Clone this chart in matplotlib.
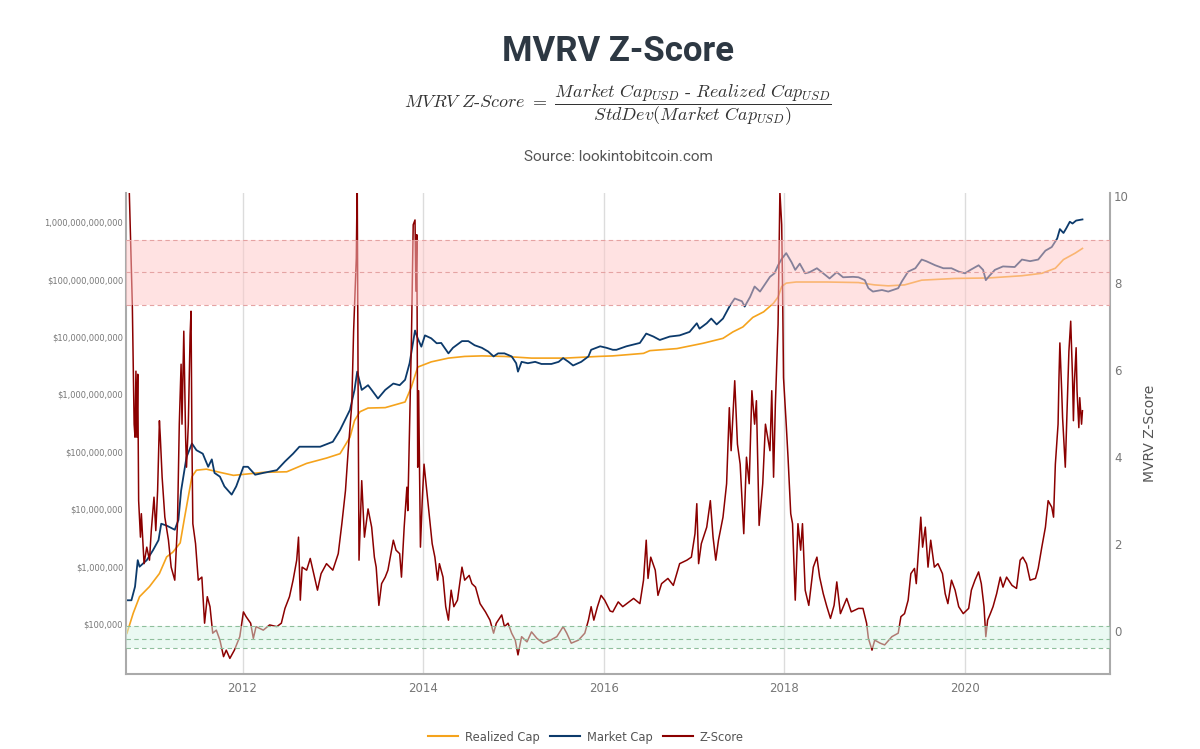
import matplotlib
matplotlib.use("Agg")
import matplotlib.pyplot as plt
from matplotlib.lines import Line2D

plt.rcParams['font.family'] = ['DejaVu Sans']
plt.rcParams['mathtext.fontset'] = 'cm'

# ----------- Data (decimal years) -----------
mcap_years = [2010.715, 2010.77, 2010.81, 2010.84, 2010.86, 2010.94, 2011.01, 2011.07, 2011.10, 2011.16,
              2011.25, 2011.29, 2011.32, 2011.38, 2011.44, 2011.49, 2011.56, 2011.62, 2011.66, 2011.69,
              2011.75, 2011.80, 2011.88, 2011.93, 2012.01, 2012.06, 2012.14, 2012.23, 2012.38, 2012.47,
              2012.56, 2012.63, 2012.75, 2012.86, 2013.00, 2013.08, 2013.19, 2013.24, 2013.27, 2013.32,
              2013.39, 2013.43, 2013.50, 2013.58, 2013.67, 2013.74, 2013.80, 2013.85, 2013.91, 2013.94,
              2013.98, 2014.02, 2014.09, 2014.15, 2014.20, 2014.28, 2014.33, 2014.43, 2014.50, 2014.57,
              2014.65, 2014.72, 2014.78, 2014.83, 2014.90, 2014.98, 2015.03, 2015.05, 2015.09, 2015.16,
              2015.24, 2015.31, 2015.42, 2015.50, 2015.55, 2015.61, 2015.66, 2015.75, 2015.83, 2015.86,
              2015.96, 2016.03, 2016.10, 2016.14, 2016.25, 2016.40, 2016.47, 2016.55, 2016.62, 2016.73,
              2016.84, 2016.95, 2017.03, 2017.06, 2017.14, 2017.19, 2017.25, 2017.32, 2017.40, 2017.45,
              2017.53, 2017.56, 2017.62, 2017.67, 2017.73, 2017.78, 2017.84, 2017.89, 2017.93, 2017.97,
              2018.02, 2018.08, 2018.12, 2018.17, 2018.23, 2018.28, 2018.36, 2018.43, 2018.50, 2018.58,
              2018.65, 2018.76, 2018.82, 2018.89, 2018.93, 2018.98, 2019.08, 2019.15, 2019.26, 2019.30,
              2019.37, 2019.45, 2019.52, 2019.57, 2019.67, 2019.76, 2019.85, 2019.93, 2020.00, 2020.06,
              2020.15, 2020.20, 2020.23, 2020.26, 2020.33, 2020.42, 2020.55, 2020.63, 2020.72, 2020.81,
              2020.89, 2020.96, 2021.02, 2021.05, 2021.09, 2021.12, 2021.16, 2021.19, 2021.23, 2021.30]
market_cap = [2.6e5, 2.6e5, 4.5e5, 1.3e6, 1.0e6, 1.3e6, 1.95e6, 2.9e6, 5.6e6, 5.2e6,
              4.4e6, 6.5e6, 2.1e7, 8.1e7, 1.4e8, 1.07e8, 9.3e7, 5.5e7, 7.4e7, 4.3e7,
              3.7e7, 2.5e7, 1.8e7, 2.5e7, 5.5e7, 5.5e7, 4.0e7, 4.3e7, 4.8e7, 6.8e7,
              9.3e7, 1.23e8, 1.23e8, 1.23e8, 1.5e8, 2.4e8, 5.4e8, 1.2e9, 2.5e9, 1.2e9,
              1.45e9, 1.2e9, 8.5e8, 1.2e9, 1.55e9, 1.45e9, 1.8e9, 3.5e9, 1.3e10, 9.5e9,
              6.8e9, 1.07e10, 9.5e9, 7.8e9, 7.9e9, 5.2e9, 6.5e9, 8.5e9, 8.5e9, 7.2e9,
              6.5e9, 5.6e9, 4.6e9, 5.2e9, 5.2e9, 4.6e9, 3.5e9, 2.5e9, 3.7e9, 3.5e9,
              3.7e9, 3.4e9, 3.4e9, 3.7e9, 4.3e9, 3.7e9, 3.2e9, 3.7e9, 4.6e9, 6.0e9,
              6.9e9, 6.5e9, 6.0e9, 6.0e9, 6.9e9, 7.9e9, 1.15e10, 1.02e10, 8.9e9, 1.02e10,
              1.07e10, 1.23e10, 1.74e10, 1.4e10, 1.74e10, 2.1e10, 1.66e10, 2.1e10, 3.6e10, 4.7e10,
              4.2e10, 3.4e10, 5.0e10, 7.6e10, 6.2e10, 8.1e10, 1.12e11, 1.29e11, 1.78e11, 2.3e11,
              2.9e11, 2.0e11, 1.48e11, 1.9e11, 1.29e11, 1.35e11, 1.58e11, 1.29e11, 1.05e11, 1.35e11,
              1.1e11, 1.12e11, 1.1e11, 9.8e10, 7.1e10, 6.2e10, 6.6e10, 6.2e10, 7.1e10, 9.3e10,
              1.38e11, 1.58e11, 2.24e11, 2.1e11, 1.78e11, 1.58e11, 1.58e11, 1.38e11, 1.29e11, 1.48e11,
              1.78e11, 1.48e11, 9.8e10, 1.12e11, 1.48e11, 1.7e11, 1.66e11, 2.24e11, 2.1e11, 2.24e11,
              3.2e11, 3.7e11, 5.2e11, 7.6e11, 6.5e11, 7.8e11, 1.02e12, 9.5e11, 1.07e12, 1.12e12]

rcap_years = [2010.72, 2010.79, 2010.86, 2010.97, 2011.08, 2011.16, 2011.23, 2011.31, 2011.36, 2011.40,
              2011.44, 2011.49, 2011.60, 2011.75, 2011.90, 2012.04, 2012.23, 2012.49, 2012.71, 2012.93,
              2013.08, 2013.19, 2013.24, 2013.30, 2013.39, 2013.58, 2013.80, 2013.87, 2013.94, 2014.09,
              2014.28, 2014.46, 2014.65, 2014.90, 2015.20, 2015.57, 2015.94, 2016.10, 2016.44, 2016.51,
              2016.81, 2017.10, 2017.32, 2017.43, 2017.54, 2017.65, 2017.77, 2017.88, 2017.93, 2017.97,
              2018.02, 2018.13, 2018.47, 2018.82, 2019.00, 2019.15, 2019.33, 2019.52, 2019.89, 2020.26,
              2020.63, 2020.85, 2021.00, 2021.09, 2021.22, 2021.30]
realized_cap = [6.9e4, 1.55e5, 3.0e5, 4.5e5, 7.6e5, 1.48e6, 1.8e6, 2.6e6, 7.4e6, 1.66e7,
                3.7e7, 4.8e7, 5.0e7, 4.4e7, 3.9e7, 4.1e7, 4.4e7, 4.5e7, 6.3e7, 7.8e7,
                9.3e7, 1.8e8, 3.5e8, 5.0e8, 5.8e8, 5.9e8, 7.4e8, 1.35e9, 3.0e9, 3.7e9,
                4.3e9, 4.6e9, 4.7e9, 4.6e9, 4.3e9, 4.3e9, 4.6e9, 4.7e9, 5.2e9, 5.8e9,
                6.3e9, 7.8e9, 9.5e9, 1.23e10, 1.5e10, 2.2e10, 2.75e10, 3.9e10, 5.0e10, 7.6e10,
                8.7e10, 9.1e10, 9.1e10, 8.9e10, 8.1e10, 7.8e10, 8.1e10, 9.8e10, 1.05e11, 1.07e11,
                1.17e11, 1.29e11, 1.58e11, 2.24e11, 2.9e11, 3.5e11]

z_years = [2010.74, 2010.78, 2010.80, 2010.81, 2010.82, 2010.83, 2010.84, 2010.85, 2010.87, 2010.88,
           2010.91, 2010.94, 2010.97, 2010.99, 2011.02, 2011.04, 2011.06, 2011.08, 2011.09, 2011.11,
           2011.14, 2011.18, 2011.21, 2011.25, 2011.28, 2011.30, 2011.32, 2011.33, 2011.35, 2011.37,
           2011.38, 2011.40, 2011.42, 2011.43, 2011.44, 2011.45, 2011.48, 2011.51, 2011.55, 2011.58,
           2011.61, 2011.64, 2011.67, 2011.71, 2011.75, 2011.79, 2011.82, 2011.86, 2011.91, 2011.97,
           2012.01, 2012.04, 2012.09, 2012.12, 2012.15, 2012.23, 2012.30, 2012.38, 2012.43, 2012.47,
           2012.52, 2012.56, 2012.60, 2012.62, 2012.64, 2012.66, 2012.71, 2012.75, 2012.78, 2012.83,
           2012.87, 2012.93, 2013.00, 2013.06, 2013.10, 2013.14, 2013.17, 2013.21, 2013.23, 2013.26,
           2013.27, 2013.28, 2013.29, 2013.32, 2013.35, 2013.39, 2013.43, 2013.46, 2013.48, 2013.51,
           2013.54, 2013.58, 2013.61, 2013.67, 2013.70, 2013.74, 2013.76, 2013.79, 2013.82, 2013.83,
           2013.85, 2013.87, 2013.89, 2013.91, 2013.92, 2013.93, 2013.94, 2013.95, 2013.97, 2013.99,
           2014.01, 2014.04, 2014.07, 2014.10, 2014.13, 2014.16, 2014.18, 2014.22, 2014.25, 2014.28,
           2014.31, 2014.34, 2014.38, 2014.43, 2014.46, 2014.51, 2014.54, 2014.58, 2014.63, 2014.69,
           2014.74, 2014.78, 2014.81, 2014.87, 2014.90, 2014.94, 2014.98, 2015.02, 2015.05, 2015.09,
           2015.15, 2015.20, 2015.26, 2015.33, 2015.41, 2015.48, 2015.55, 2015.59, 2015.64, 2015.72,
           2015.79, 2015.83, 2015.86, 2015.89, 2015.93, 2015.97, 2016.01, 2016.07, 2016.10, 2016.16,
           2016.21, 2016.33, 2016.40, 2016.44, 2016.47, 2016.49, 2016.52, 2016.57, 2016.60, 2016.64,
           2016.71, 2016.77, 2016.84, 2016.92, 2016.97, 2017.01, 2017.03, 2017.05, 2017.08, 2017.14,
           2017.18, 2017.21, 2017.24, 2017.27, 2017.32, 2017.36, 2017.39, 2017.41, 2017.45, 2017.48,
           2017.51, 2017.55, 2017.58, 2017.61, 2017.64, 2017.67, 2017.69, 2017.72, 2017.76, 2017.79,
           2017.84, 2017.86, 2017.88, 2017.90, 2017.93, 2017.95, 2017.97, 2017.98, 2017.99, 2018.02,
           2018.04, 2018.07, 2018.09, 2018.12, 2018.15, 2018.18, 2018.20, 2018.23, 2018.27, 2018.32,
           2018.36, 2018.39, 2018.43, 2018.47, 2018.51, 2018.55, 2018.58, 2018.62, 2018.69, 2018.74,
           2018.82, 2018.87, 2018.91, 2018.93, 2018.97, 2019.00, 2019.06, 2019.11, 2019.19, 2019.26,
           2019.29, 2019.33, 2019.37, 2019.40, 2019.44, 2019.46, 2019.51, 2019.53, 2019.56, 2019.59,
           2019.62, 2019.66, 2019.70, 2019.75, 2019.78, 2019.81, 2019.85, 2019.89, 2019.93, 2019.98,
           2020.04, 2020.07, 2020.11, 2020.15, 2020.18, 2020.21, 2020.23, 2020.25, 2020.28, 2020.31,
           2020.35, 2020.39, 2020.42, 2020.46, 2020.52, 2020.57, 2020.61, 2020.64, 2020.68, 2020.72,
           2020.78, 2020.81, 2020.85, 2020.89, 2020.92, 2020.96, 2020.98, 2021.00, 2021.03, 2021.04,
           2021.05, 2021.07, 2021.08, 2021.10, 2021.11, 2021.13, 2021.15, 2021.17, 2021.19, 2021.20,
           2021.21, 2021.23, 2021.24, 2021.26, 2021.27, 2021.29, 2021.30]
z_score = [10.6, 7.50, 4.75, 4.45, 5.97, 4.45, 5.90, 2.99, 2.15, 2.69,
           1.54, 1.92, 1.62, 2.30, 3.07, 2.30, 3.22, 4.83, 4.45, 3.53,
           2.61, 2.08, 1.46, 1.16, 2.46, 4.75, 6.13, 4.75, 6.89, 4.45,
           3.76, 4.75, 6.82, 7.35, 4.37, 2.46, 2.00, 1.16, 1.23, 0.17,
           0.78, 0.55, -0.06, 0.01, -0.22, -0.60, -0.45, -0.64, -0.45, -0.14,
           0.43, 0.32, 0.17, -0.18, 0.09, 0.01, 0.13, 0.09, 0.17, 0.51,
           0.78, 1.16, 1.62, 2.15, 0.70, 1.46, 1.39, 1.66, 1.39, 0.93,
           1.31, 1.54, 1.39, 1.77, 2.46, 3.22, 4.14, 5.21, 6.89, 8.57,
           10.4, 5.52, 1.62, 3.45, 2.15, 2.80, 2.38, 1.69, 1.46, 0.58,
           1.08, 1.23, 1.39, 2.08, 1.85, 1.77, 1.23, 2.38, 3.30, 2.76,
           4.75, 6.66, 9.34, 9.45, 7.81, 9.11, 3.76, 5.52, 1.92, 2.99,
           3.83, 3.22, 2.61, 2.00, 1.69, 1.16, 1.54, 1.23, 0.55, 0.24,
           0.93, 0.55, 0.70, 1.46, 1.16, 1.27, 1.08, 1.00, 0.62, 0.43,
           0.24, -0.06, 0.17, 0.36, 0.09, 0.17, -0.06, -0.22, -0.56, -0.14,
           -0.26, -0.03, -0.18, -0.29, -0.22, -0.14, 0.09, -0.06, -0.29, -0.22,
           -0.06, 0.24, 0.55, 0.24, 0.55, 0.81, 0.70, 0.45, 0.43, 0.66,
           0.55, 0.74, 0.62, 1.16, 2.08, 1.20, 1.69, 1.39, 0.81, 1.08,
           1.20, 1.04, 1.54, 1.62, 1.69, 2.23, 2.92, 1.54, 2.00, 2.38,
           2.99, 2.15, 1.62, 2.08, 2.61, 3.38, 5.13, 4.14, 5.75, 4.29,
           3.83, 2.23, 3.99, 3.38, 5.52, 4.75, 5.29, 2.42, 3.38, 4.75,
           4.14, 5.52, 3.53, 5.21, 7.05, 10.1, 9.34, 7.81, 5.82, 4.75,
           3.99, 2.69, 2.46, 0.70, 2.46, 1.85, 2.46, 0.93, 0.58, 1.46,
           1.69, 1.23, 0.85, 0.55, 0.28, 0.58, 1.12, 0.39, 0.74, 0.43,
           0.51, 0.51, 0.17, -0.18, -0.45, -0.22, -0.29, -0.33, -0.14, -0.06,
           0.32, 0.39, 0.70, 1.31, 1.43, 1.08, 2.61, 1.92, 2.38, 1.46,
           2.08, 1.46, 1.54, 1.31, 0.85, 0.62, 1.16, 0.93, 0.55, 0.39,
           0.51, 0.93, 1.16, 1.35, 1.08, 0.55, -0.14, 0.24, 0.39, 0.55,
           0.85, 1.23, 1.00, 1.23, 1.04, 0.97, 1.62, 1.69, 1.54, 1.16,
           1.20, 1.43, 1.92, 2.38, 2.99, 2.84, 2.61, 3.83, 4.75, 5.82,
           6.62, 5.52, 4.90, 4.14, 3.76, 5.13, 6.43, 7.12, 5.82, 4.83,
           5.67, 6.51, 5.52, 4.67, 5.36, 4.75, 5.06]

cap_ticks = [1e5, 1e6, 1e7, 1e8, 1e9, 1e10, 1e11, 1e12]
cap_tick_labels = [r"\$100,000", r"\$1,000,000", r"\$10,000,000", r"\$100,000,000", r"\$1,000,000,000",
                   r"\$10,000,000,000", r"\$100,000,000,000", "1,000,000,000,000"]
year_ticks = [2012, 2014, 2016, 2018, 2020]
z_ticks = [0, 2, 4, 6, 8, 10]
red_band = [7.5, 8.25, 9.0]
green_band = [-0.4, -0.2, 0.1]

ORANGE = "#f5a31c"
NAVY = "#0c3a6b"
DARKRED = "#8b0000"
GRID = "#aaaaaa"

# ----------- Figure -----------
fig = plt.figure(figsize=(12, 7.49), dpi=100)
ax = fig.add_axes([0.105, 0.1001, 0.82, 0.6422])
ax2 = ax.twinx()

ax.plot(rcap_years, realized_cap, color=ORANGE, lw=1.2)
ax.plot(mcap_years, market_cap, color=NAVY, lw=1.3)
ax.set_yscale("log")
ax.set_ylim(1.35e4, 3.23e12)
ax.set_xlim(2010.71, 2021.605)
ax.set_yticks(cap_ticks)
ax.set_yticklabels(cap_tick_labels)
ax.minorticks_off()
ax.set_xticks(year_ticks)
ax.set_xticklabels([str(y) for y in year_ticks])
ax.grid(axis="x", color="#dcdcdc", lw=1)
ax.set_axisbelow(True)

ax2.plot(z_years, z_score, color=DARKRED, lw=1.1)
ax2.set_ylim(-1.0, 10.07)
ax2.set_yticks(z_ticks)

# bands drawn on top of the lines, semi transparent
ax2.axhspan(red_band[0], red_band[-1], color=(1.0, 0.78, 0.78), alpha=0.5, lw=0, zorder=5)
ax2.axhspan(green_band[0], green_band[-1], color=(0.84, 0.96, 0.9), alpha=0.5, lw=0, zorder=5)
for lvl in red_band:
    ax2.axhline(lvl, color="#e5a3a3", lw=0.8, ls=(0, (4, 3)), zorder=6)
for lvl in green_band:
    ax2.axhline(lvl, color="#8fbf9c", lw=0.8, ls=(0, (4, 3)), zorder=6)

# ----------- Axes styling -----------
for s in ["top", "right"]:
    ax.spines[s].set_visible(False)
for s in ["top", "left", "bottom"]:
    ax2.spines[s].set_visible(False)
for sp in [ax.spines["left"], ax.spines["bottom"], ax2.spines["right"]]:
    sp.set_color(GRID)
    sp.set_linewidth(1.5)

ax.tick_params(axis="y", length=0, labelsize=6, labelcolor="#777777", pad=2)
ax.tick_params(axis="x", length=0, labelsize=8.5, labelcolor="#777777", pad=6)
ax2.tick_params(axis="y", length=0, labelsize=8.5, labelcolor="#777777", pad=3)
ax2.set_ylabel("MVRV Z-Score", fontsize=10, color="#555555", labelpad=10)

# ----------- Titles -----------
cx = 0.515
fig.text(cx, 0.9306, "MVRV Z-Score", ha="center", va="center", fontsize=25,
         fontweight="bold", family="Roboto", color="#2d3843")
fig.text(cx, 0.86,
         r"$MVRV\ Z\text{-}Score\ =\ \dfrac{Market\ Cap_{USD}\ \text{-}\ Realized\ Cap_{USD}}"
         r"{StdDev(Market\ Cap_{USD})}$",
         ha="center", va="center", fontsize=13, color="#333333")
fig.text(cx, 0.79, "Source: lookintobitcoin.com", ha="center", va="center",
         fontsize=11, family="Roboto", color="#555555")

# ----------- Legend -----------
handles = [Line2D([], [], color=ORANGE, lw=1.5),
           Line2D([], [], color=NAVY, lw=1.5),
           Line2D([], [], color=DARKRED, lw=1.5)]
fig.legend(handles, ["Realized Cap", "Market Cap", "Z-Score"], loc="center",
           bbox_to_anchor=(0.488, 0.016), ncol=3, frameon=False, fontsize=8.3,
           labelcolor="#555555", handlelength=2.6, columnspacing=0.9, handletextpad=0.6)

fig.savefig("out.png", dpi=100)
